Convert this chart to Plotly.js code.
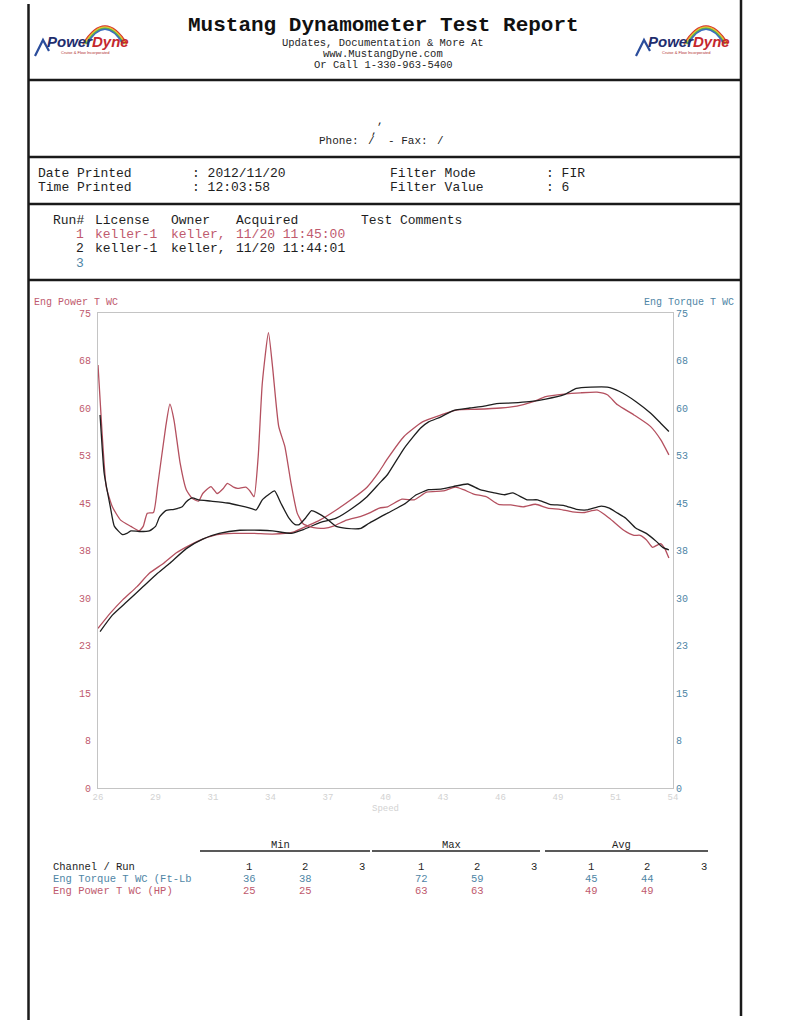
<!DOCTYPE html>
<html>
<head>
<meta charset="utf-8">
<script src="https://cdn.plot.ly/plotly-3.0.1.min.js"></script>
<style>
  html, body { margin: 0; padding: 0; background: #fff; }
  #report { width: 787px; height: 1024px; }
</style>
</head>
<body>
<div id="report"></div>
<script>
// speed (x) and channel values
const torqueRun1Speed = [26.0,26.2,26.4,26.7,27.1,27.6,28.0,28.2,28.4,28.7,28.9,29.3,29.5,29.7,30.0,30.3,30.6,30.9,31.1,31.5,31.8,32.1,32.3,32.6,32.8,33.2,33.4,33.6,33.8,34.0,34.3,34.5,34.8,35.1,35.4,35.7,36.0,36.5,37.0,37.5,38.1,38.8,39.2,39.7,40.1,40.8,41.4,42.0,42.8,43.4,43.8,44.3,44.9,45.5,46.1,46.7,47.3,47.9,48.5,49.1,49.7,50.3,50.9,51.6,52.1,52.4,52.7,53.0,53.4,53.6,53.8];
const torqueRun1 = [66.8,56.0,47.6,44.4,42.3,41.3,40.6,41.3,43.4,43.5,47.6,57.1,60.6,58.1,51.3,47.1,45.7,45.3,46.5,47.6,46.5,47.3,48.1,47.5,47.3,47.5,46.9,46.0,52.3,63.9,71.9,66.5,57.1,53.9,48.1,43.4,41.7,41.1,41.0,41.4,42.3,42.9,43.4,44.2,44.4,45.6,45.5,46.7,46.9,47.5,47.1,46.4,46.0,44.8,44.7,44.4,44.8,44.2,44.0,43.6,43.5,43.9,42.6,40.7,39.9,39.9,39.2,38.0,38.6,37.8,36.3];

const torqueRun2Speed = [26.1,26.2,26.3,26.6,26.8,27.2,27.4,27.6,28.0,28.5,28.8,29.0,29.3,29.7,30.1,30.3,30.6,30.9,31.5,32.3,32.9,33.4,33.7,34.0,34.3,34.6,34.9,35.3,35.6,35.8,36.1,36.4,36.7,37.1,37.6,38.1,38.8,39.2,40.1,40.9,41.5,42.1,42.7,43.3,44.0,44.6,45.3,45.8,46.2,46.9,47.4,48.0,48.7,49.3,49.8,50.5,50.9,51.3,51.7,52.2,52.7,53.2,53.5,53.8];
const torqueRun2 = [58.9,53.9,49.7,44.4,41.3,40.0,40.2,40.6,40.5,40.6,41.3,42.8,43.8,44.0,44.4,45.2,45.8,45.5,45.3,45.0,44.6,44.2,43.9,45.5,46.3,46.9,45.0,42.6,41.6,41.6,42.6,43.8,43.4,42.6,41.3,41.0,41.0,41.8,43.4,44.8,46.3,47.1,47.2,47.6,48.0,47.1,46.6,46.3,46.6,45.5,45.5,44.8,44.6,44.0,43.9,44.5,44.2,43.4,42.6,41.0,40.2,38.9,38.0,37.6];

const powerRun1Speed = [26.0,26.6,27.2,27.9,28.5,29.2,29.8,30.5,31.1,31.8,32.6,33.6,34.5,35.5,36.2,36.8,37.6,38.4,39.1,39.7,40.1,40.9,41.8,42.7,43.5,44.4,45.6,46.4,47.2,47.8,48.7,49.5,50.3,50.8,51.3,52.1,52.9,53.4,53.8];
const powerRun1 = [25.2,27.6,29.7,31.8,33.9,35.5,37.1,38.4,39.3,40.0,40.2,40.2,40.1,40.4,41.4,42.3,43.9,45.7,47.5,50.0,52.0,55.5,57.8,58.9,59.7,59.8,60.0,60.3,61.0,61.8,62.2,62.4,62.5,62.1,60.5,58.9,57.1,55.0,52.6];

const powerRun2Speed = [26.1,26.7,27.4,28.2,28.9,29.5,30.3,31.1,31.9,32.9,33.9,34.5,35.4,36.0,36.8,37.6,38.4,39.1,39.7,40.1,40.9,41.7,42.1,42.7,43.3,44.1,44.8,45.4,46.2,47.0,47.8,48.7,49.3,50.0,50.8,51.4,52.2,52.9,53.4,53.8];
const powerRun2 = [24.7,27.3,29.4,31.8,33.9,35.5,37.8,39.3,40.2,40.7,40.7,40.6,40.2,40.8,41.9,42.6,44.2,46.0,48.1,49.5,53.6,56.8,57.8,58.6,59.6,60.0,60.3,60.7,60.8,61.0,61.4,62.1,63.1,63.3,63.3,62.6,61.0,59.2,57.6,56.3];

const speedTicks = [26, 28.8, 31.6, 34.4, 37.2, 40, 42.8, 45.6, 48.4, 51.2, 54];
const speedTickText = ['26','29','31','34','37','40','43','46','49','51','54'];
const valueTicks = [0, 7.5, 15, 22.5, 30, 37.5, 45, 52.5, 60, 67.5, 75];
const valueTickText = ['0','8','15','23','30','38','45','53','60','68','75'];

// run list
const runNumbers = ['1', '2', '3'];
const runLicense = ['keller-1', 'keller-1', ''];
const runOwner = ['keller,', 'keller,', ''];
const runAcquired = ['11/20 11:45:00', '11/20 11:44:01', ''];

// summary table
const statGroups = ['Min', 'Max', 'Avg'];
const torqueStats = [[36, 38], [72, 59], [45, 44]];
const powerStats = [[25, 25], [63, 63], [49, 49]];

const RED = '#b4505f';
const RED_TEXT = '#c05a6e';
const BLUE_TEXT = '#4f86a6';
const INK = '#1e1e1e';
const MONO = '"Liberation Mono", "DejaVu Sans Mono", monospace';
const SANS = '"Liberation Sans", Arial, sans-serif';
const RUN_COLORS = [RED_TEXT, INK, BLUE_TEXT];

// page pixels -> paper coordinates (plot area is 98..673 x 313..788)
const L = 98, R = 673, T = 313, B = 788;
const px = x => (x - L) / (R - L);
const py = y => (B - y) / (B - T);

function txt(x, y, text, size, color, anchor, bold) {
    return {
        xref: 'paper', yref: 'paper', x: px(x), y: py(y),
        text: bold ? '<b>' + text + '</b>' : text,
        showarrow: false, xanchor: anchor || 'left', yanchor: 'middle',
        borderpad: 0,
        font: { family: MONO, size: size, color: color || INK }
    };
}

function line(x0, y0, x1, y1, width, color) {
    return {
        type: 'line', xref: 'paper', yref: 'paper',
        x0: px(x0), y0: py(y0), x1: px(x1), y1: py(y1),
        line: { color: color || '#1a1a1a', width: width || 2.5 }
    };
}

function path(cmds, color, width) {
    const d = cmds.map(c => {
        let s = c[0];
        for (let i = 1; i < c.length; i += 2) s += ' ' + px(c[i]).toFixed(5) + ',' + py(c[i + 1]).toFixed(5);
        return s;
    }).join(' ');
    return { type: 'path', xref: 'paper', yref: 'paper', path: d, line: { color: color, width: width } };
}

function logo(x0, shapes, annotations) {
    // rainbow arc over "Dyne"
    const arcColors = ['#d02a2a', '#e8862a', '#e8d23a', '#5bb04a', '#3a6cc0'];
    arcColors.forEach((c, i) => {
        shapes.push(path([['M', x0 + 48 + i, 44], ['Q', x0 + 70, 8 + i * 1.6, x0 + 92 - i, 44]], c, 1.6));
    });
    // swoosh under "Power"
    shapes.push(path([['M', x0, 56], ['L', x0 + 8, 40], ['L', x0 + 14, 51]], '#2b4d9c', 2.2));
    annotations.push({
        xref: 'paper', yref: 'paper', x: px(x0 + 11), y: py(42),
        text: '<b><i><span style="color:#1f2d6e">Power</span><span style="color:#c4282e">Dyne</span></i></b>',
        showarrow: false, xanchor: 'left', yanchor: 'middle', borderpad: 0,
        font: { family: SANS, size: 15 }
    });
    annotations.push({
        xref: 'paper', yref: 'paper', x: px(x0 + 50), y: py(52),
        text: 'Cruise &amp; Flow Incorporated', showarrow: false, xanchor: 'center', yanchor: 'middle',
        borderpad: 0, font: { family: SANS, size: 4, color: '#b03030' }
    });
}

const shapes = [
    line(28.5, 4, 28.5, 1020, 2.5),
    line(741, 0, 741, 1016, 2.5),
    line(28, 80, 741, 80, 2.5),
    line(28, 157, 741, 157, 2.5),
    line(28, 204, 741, 204, 2.5),
    line(28, 280, 741, 280, 2.5)
];

const annotations = [
    txt(383, 25, 'Mustang Dynamometer Test Report', 21, '#111', 'center', true),
    txt(383, 43, 'Updates, Documentation &amp; More At', 10.5, INK, 'center'),
    txt(383, 54, 'www.MustangDyne.com', 10.5, INK, 'center'),
    txt(383, 65, 'Or Call 1-330-963-5400', 10.5, INK, 'center'),

    txt(380, 121, ',', 11, INK, 'center'),
    txt(374, 131, ',', 11, INK, 'center'),
    txt(318, 141, 'Phone:', 11, INK),
    txt(371, 141, '/', 11, INK, 'center'),
    txt(387, 141, '- Fax:', 11, INK),
    txt(440, 141, '/', 11, INK, 'center'),

    txt(36.5, 173, 'Date Printed', 13),
    txt(191, 173, ': 2012/11/20', 13),
    txt(36.5, 187, 'Time Printed', 13),
    txt(191, 187, ': 12:03:58', 13),
    txt(389, 173, 'Filter Mode', 13),
    txt(545, 173, ': FIR', 13),
    txt(389, 187, 'Filter Value', 13),
    txt(545, 187, ': 6', 13),

    txt(51.5, 220.5, 'Run#', 13),
    txt(93.5, 220.5, 'License', 13),
    txt(170, 220.5, 'Owner', 13),
    txt(235, 220.5, 'Acquired', 13),
    txt(360, 220.5, 'Test Comments', 13),

    txt(33, 302, 'Eng Power T WC', 10, RED_TEXT),
    txt(735, 302, 'Eng Torque T WC', 10, BLUE_TEXT, 'right')
];

runNumbers.forEach((n, i) => {
    const y = 234.5 + i * 14.3;
    const c = RUN_COLORS[i];
    annotations.push(txt(75, y, n, 13, c));
    if (runLicense[i]) annotations.push(txt(93.5, y, runLicense[i], 13, c));
    if (runOwner[i]) annotations.push(txt(170, y, runOwner[i], 13, c));
    if (runAcquired[i]) annotations.push(txt(235, y, runAcquired[i], 13, c));
});

// summary table
const groupRunX = [249, 421, 591];
const runOffsets = [0, 56, 113];
const groupLines = [[200, 370], [372, 540], [545, 708]];
statGroups.forEach((g, gi) => {
    annotations.push(txt((groupLines[gi][0] + groupLines[gi][1]) / 2 - 5, 845, g, 10.5, INK, 'center'));
    shapes.push(line(groupLines[gi][0], 851, groupLines[gi][1], 851, 1.4, '#222'));
    runNumbers.forEach((n, ri) => {
        annotations.push(txt(groupRunX[gi] + runOffsets[ri], 867, n, 10.5, INK, 'center'));
        if (ri < 2) {
            annotations.push(txt(groupRunX[gi] + runOffsets[ri], 879, String(torqueStats[gi][ri]), 10.5, BLUE_TEXT, 'center'));
            annotations.push(txt(groupRunX[gi] + runOffsets[ri], 891, String(powerStats[gi][ri]), 10.5, RED_TEXT, 'center'));
        }
    });
});
annotations.push(txt(52, 867, 'Channel / Run', 10.5, INK));
annotations.push(txt(52, 879, 'Eng Torque T WC (Ft-Lb', 10.5, BLUE_TEXT));
annotations.push(txt(52, 891, 'Eng Power T WC (HP)', 10.5, RED_TEXT));

logo(35, shapes, annotations);
logo(636, shapes, annotations);

function trace(x, y, color, axis, name) {
    return {
        x: x, y: y, type: 'scatter', mode: 'lines', name: name,
        yaxis: axis, line: { color: color, width: 1.3, shape: 'spline', smoothing: 0.5 },
        hoverinfo: 'skip'
    };
}

const traces = [
    trace(powerRun1Speed, powerRun1, RED, 'y', 'Power run 1'),
    trace(torqueRun1Speed, torqueRun1, RED, 'y2', 'Torque run 1'),
    trace(powerRun2Speed, powerRun2, INK, 'y', 'Power run 2'),
    trace(torqueRun2Speed, torqueRun2, INK, 'y2', 'Torque run 2')
];

const axisCommon = {
    range: [0, 75], tickvals: valueTicks, ticktext: valueTickText,
    showgrid: false, zeroline: false, showline: true, linecolor: '#c4c4c4', linewidth: 1,
    ticks: '', fixedrange: true
};

const layout = {
    width: 787, height: 1024,
    margin: { l: L, r: 787 - R, t: T, b: 1024 - B, pad: 0 },
    paper_bgcolor: '#ffffff', plot_bgcolor: '#ffffff',
    showlegend: false,
    xaxis: {
        range: [26, 54], tickvals: speedTicks, ticktext: speedTickText,
        showgrid: false, zeroline: false, showline: true, mirror: true,
        linecolor: '#c4c4c4', linewidth: 1, ticks: '',
        tickfont: { family: MONO, size: 9, color: '#d2d2d2' },
        title: { text: 'Speed', standoff: 2, font: { family: MONO, size: 9, color: '#d2d2d2' } }
    },
    yaxis: {
        ...axisCommon, side: 'left', ticklabelstandoff: 4,
        tickfont: { family: MONO, size: 10, color: RED_TEXT }
    },
    yaxis2: {
        ...axisCommon, side: 'right', overlaying: 'y',
        tickfont: { family: MONO, size: 10, color: BLUE_TEXT }
    },
    shapes: shapes,
    annotations: annotations
};

Plotly.newPlot('report', traces, layout, { staticPlot: true, displayModeBar: false });
</script>
</body>
</html>
